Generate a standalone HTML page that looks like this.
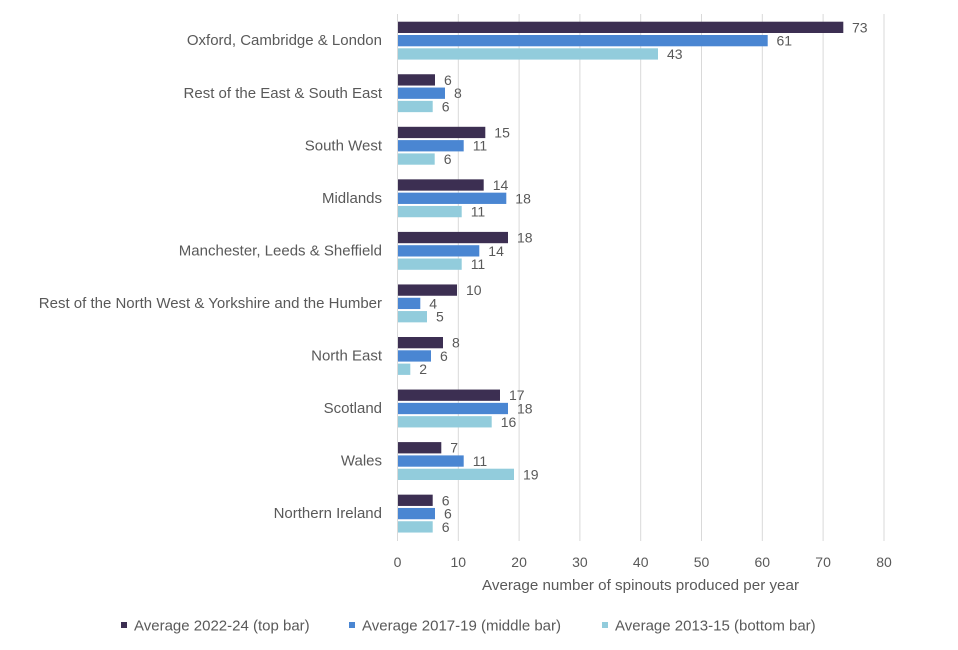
<!DOCTYPE html>
<html>
<head>
<meta charset="utf-8">
<style>
  html, body { margin: 0; padding: 0; background: #ffffff; }
  svg { display: block; }
  text { font-family: "Liberation Sans", Arial, sans-serif; fill: #595959; }
</style>
</head>
<body>
<svg width="958" height="650" viewBox="0 0 958 650" xmlns="http://www.w3.org/2000/svg">
  <rect x="0" y="0" width="958" height="650" fill="#ffffff"/>
  <!-- gridlines -->
  <g stroke="#d9d9d9" stroke-width="1">
    <line x1="397.5" y1="14" x2="397.5" y2="541"/>
    <line x1="458.3" y1="14" x2="458.3" y2="541"/>
    <line x1="519.1" y1="14" x2="519.1" y2="541"/>
    <line x1="579.9" y1="14" x2="579.9" y2="541"/>
    <line x1="640.7" y1="14" x2="640.7" y2="541"/>
    <line x1="701.5" y1="14" x2="701.5" y2="541"/>
    <line x1="762.3" y1="14" x2="762.3" y2="541"/>
    <line x1="823.1" y1="14" x2="823.1" y2="541"/>
    <line x1="884" y1="14" x2="884" y2="541"/>
  </g>

  <!-- bars: group top = 21.7 + 52.55*i; dark offset 0, blue 13.3, light 26.6; height 11.5 -->
  <!-- Oxford -->
  <g>
    <rect x="398" y="21.7" width="445.3" height="11.3" fill="#3c2f52"/>
    <rect x="398" y="35.0" width="369.7" height="11.3" fill="#4a86d2"/>
    <rect x="398" y="48.3" width="260.0" height="11.3" fill="#92ccdc"/>
  </g>
  <!-- Rest of East -->
  <g>
    <rect x="398" y="74.25" width="37.0" height="11.3" fill="#3c2f52"/>
    <rect x="398" y="87.55" width="47.0" height="11.3" fill="#4a86d2"/>
    <rect x="398" y="100.85" width="34.7" height="11.3" fill="#92ccdc"/>
  </g>
  <!-- South West -->
  <g>
    <rect x="398" y="126.8" width="87.3" height="11.3" fill="#3c2f52"/>
    <rect x="398" y="140.1" width="65.7" height="11.3" fill="#4a86d2"/>
    <rect x="398" y="153.4" width="36.7" height="11.3" fill="#92ccdc"/>
  </g>
  <!-- Midlands -->
  <g>
    <rect x="398" y="179.35" width="85.7" height="11.3" fill="#3c2f52"/>
    <rect x="398" y="192.65" width="108.3" height="11.3" fill="#4a86d2"/>
    <rect x="398" y="205.95" width="63.7" height="11.3" fill="#92ccdc"/>
  </g>
  <!-- Manchester -->
  <g>
    <rect x="398" y="231.9" width="110.0" height="11.3" fill="#3c2f52"/>
    <rect x="398" y="245.2" width="81.3" height="11.3" fill="#4a86d2"/>
    <rect x="398" y="258.5" width="63.7" height="11.3" fill="#92ccdc"/>
  </g>
  <!-- Rest NW -->
  <g>
    <rect x="398" y="284.45" width="59.0" height="11.3" fill="#3c2f52"/>
    <rect x="398" y="297.75" width="22.3" height="11.3" fill="#4a86d2"/>
    <rect x="398" y="311.05" width="29.0" height="11.3" fill="#92ccdc"/>
  </g>
  <!-- North East -->
  <g>
    <rect x="398" y="337.0" width="45.0" height="11.3" fill="#3c2f52"/>
    <rect x="398" y="350.3" width="33.0" height="11.3" fill="#4a86d2"/>
    <rect x="398" y="363.6" width="12.3" height="11.3" fill="#92ccdc"/>
  </g>
  <!-- Scotland -->
  <g>
    <rect x="398" y="389.55" width="102.0" height="11.3" fill="#3c2f52"/>
    <rect x="398" y="402.85" width="110.0" height="11.3" fill="#4a86d2"/>
    <rect x="398" y="416.15" width="93.7" height="11.3" fill="#92ccdc"/>
  </g>
  <!-- Wales -->
  <g>
    <rect x="398" y="442.1" width="43.3" height="11.3" fill="#3c2f52"/>
    <rect x="398" y="455.4" width="65.7" height="11.3" fill="#4a86d2"/>
    <rect x="398" y="468.7" width="116.0" height="11.3" fill="#92ccdc"/>
  </g>
  <!-- Northern Ireland -->
  <g>
    <rect x="398" y="494.65" width="34.7" height="11.3" fill="#3c2f52"/>
    <rect x="398" y="507.95" width="37.0" height="11.3" fill="#4a86d2"/>
    <rect x="398" y="521.25" width="34.7" height="11.3" fill="#92ccdc"/>
  </g>

  <!-- data labels -->
  <g font-size="14" dominant-baseline="central">
    <text x="852" y="27.4">73</text>
    <text x="776.5" y="40.7">61</text>
    <text x="667" y="54.0">43</text>

    <text x="444" y="79.9">6</text>
    <text x="454" y="93.2">8</text>
    <text x="441.7" y="106.5">6</text>

    <text x="494.3" y="132.4">15</text>
    <text x="472.7" y="145.7">11</text>
    <text x="443.7" y="159.0">6</text>

    <text x="492.7" y="185.0">14</text>
    <text x="515.3" y="198.3">18</text>
    <text x="470.7" y="211.6">11</text>

    <text x="517" y="237.5">18</text>
    <text x="488.3" y="250.8">14</text>
    <text x="470.7" y="264.1">11</text>

    <text x="466" y="290.1">10</text>
    <text x="429.3" y="303.4">4</text>
    <text x="436" y="316.7">5</text>

    <text x="452" y="342.6">8</text>
    <text x="440" y="355.9">6</text>
    <text x="419.3" y="369.2">2</text>

    <text x="509" y="395.2">17</text>
    <text x="517" y="408.5">18</text>
    <text x="500.7" y="421.8">16</text>

    <text x="450.3" y="447.7">7</text>
    <text x="472.7" y="461.0">11</text>
    <text x="523" y="474.3">19</text>

    <text x="441.7" y="500.3">6</text>
    <text x="444" y="513.6">6</text>
    <text x="441.7" y="526.9">6</text>
  </g>

  <!-- category labels -->
  <g font-size="15" text-anchor="end" dominant-baseline="central">
    <text x="382" y="40.7">Oxford, Cambridge &amp; London</text>
    <text x="382" y="93.25">Rest of the East &amp; South East</text>
    <text x="382" y="145.8">South West</text>
    <text x="382" y="198.35">Midlands</text>
    <text x="382" y="250.9">Manchester, Leeds &amp; Sheffield</text>
    <text x="382" y="303.45">Rest of the North West &amp; Yorkshire and the Humber</text>
    <text x="382" y="356.0">North East</text>
    <text x="382" y="408.55">Scotland</text>
    <text x="382" y="461.1">Wales</text>
    <text x="382" y="513.65">Northern Ireland</text>
  </g>

  <!-- x tick labels -->
  <g font-size="14" text-anchor="middle" dominant-baseline="central">
    <text x="397.5" y="562">0</text>
    <text x="458.3" y="562">10</text>
    <text x="519.1" y="562">20</text>
    <text x="579.9" y="562">30</text>
    <text x="640.7" y="562">40</text>
    <text x="701.5" y="562">50</text>
    <text x="762.3" y="562">60</text>
    <text x="823.1" y="562">70</text>
    <text x="884" y="562">80</text>
  </g>

  <!-- axis title -->
  <text x="640.5" y="586" font-size="14.5" text-anchor="middle" dominant-baseline="central" textLength="317" lengthAdjust="spacingAndGlyphs">Average number of spinouts produced per year</text>

  <!-- legend -->
  <g font-size="15" dominant-baseline="central">
    <rect x="121" y="622" width="6" height="6" fill="#3c2f52"/>
    <text x="134" y="626">Average 2022-24 (top bar)</text>
    <rect x="349" y="622" width="6" height="6" fill="#4a86d2"/>
    <text x="362" y="626">Average 2017-19 (middle bar)</text>
    <rect x="602" y="622" width="6" height="6" fill="#92ccdc"/>
    <text x="615" y="626">Average 2013-15 (bottom bar)</text>
  </g>
</svg>
</body>
</html>
